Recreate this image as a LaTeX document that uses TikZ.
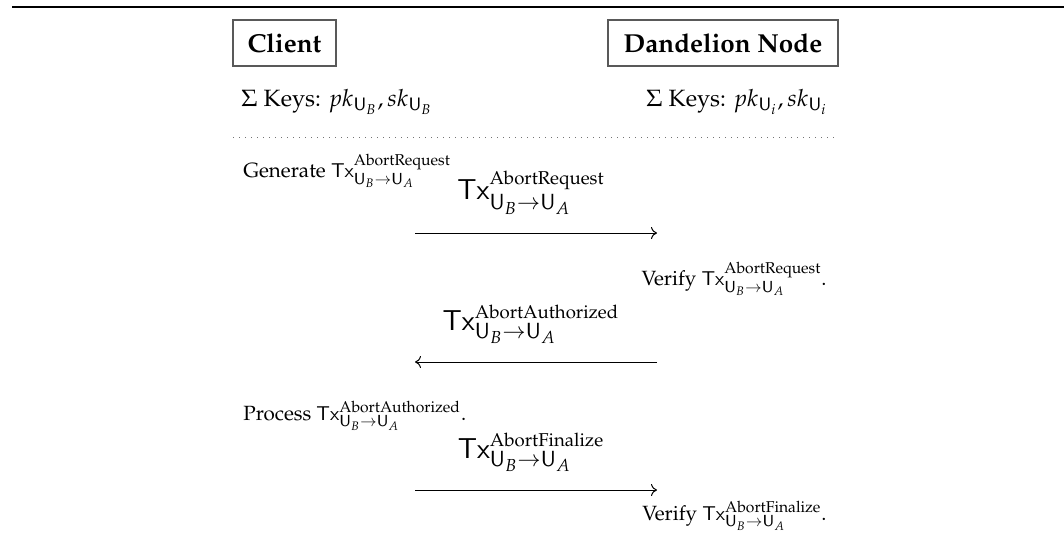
\documentclass[tikz,border=0pt]{standalone}
\usepackage[T1]{fontenc}
\usepackage{mathpazo}
\usepackage{amsmath}
\usetikzlibrary{arrows.meta}

% transaction symbol in running text
\newcommand{\txin}[1]{\ensuremath{\mathsf{Tx}^{\text{#1}}_{\mathsf{U}_B\rightarrow\mathsf{U}_A}}}
% transaction symbol as a message label
\newcommand{\txmsg}[1]{{\fontsize{14.5}{17}\selectfont
  $\mathsf{Tx}^{\mbox{\fontsize{9.3}{11}\selectfont #1}}_{\mathsf{U}_B\rightarrow\mathsf{U}_A}$}}

\tikzset{
  party/.style={draw=black!65, line width=0.6pt, inner sep=0pt,
    minimum height=23pt, font=\fontsize{13}{15}\selectfont\bfseries},
  step text/.style={inner sep=0pt, font=\fontsize{10.3}{12}\selectfont},
  key text/.style={inner sep=0pt, font=\fontsize{11.8}{14}\selectfont},
  msg/.style={line width=0.5pt, -{To[length=3pt,width=6pt]}},
  msglabel/.style={inner sep=0pt, above=9pt, midway, xshift=-2.5pt},
  rule/.style={line width=0.7pt},
  sep/.style={black!55, line width=0.5pt, dash pattern=on 0.5pt off 2.5pt}
}

\begin{document}
\begin{tikzpicture}[x=0.5pt, y=-0.5pt]
  \useasboundingbox (0,0) rectangle (1064,543);

  % top rule
  \coordinate (ruleL) at (12,7);
  \coordinate (ruleR) at (1064,7);
  \draw[rule] (ruleL) -- (ruleR);

  % parties
  \node[party, minimum width=51.5pt] (client) at (284.5,43) {Client};
  \node[party, minimum width=115pt] (dnode) at (723,43) {Dandelion Node};

  % keys
  \node[key text, anchor=base west] (ckeys) at (241,106)
    {$\Sigma$ Keys: $pk_{\mathsf{U}_B}, sk_{\mathsf{U}_B}$};
  \node[key text, anchor=base east] (nkeys) at (828,106)
    {$\Sigma$ Keys: $pk_{\mathsf{U}_i}, sk_{\mathsf{U}_i}$};

  % separator
  \coordinate (sepL) at (233,137);
  \coordinate (sepR) at (838,137);
  \draw[sep] (sepL) -- (sepR);

  % message endpoints
  \coordinate (c1) at (415,233);  \coordinate (n1) at (657,233);
  \coordinate (c2) at (415,362);  \coordinate (n2) at (657,362);
  \coordinate (c3) at (415,490);  \coordinate (n3) at (657,490);

  % protocol steps
  \node[step text, anchor=base west] (gen) at (243,177)
    {Generate \txin{AbortRequest}};
  \draw[msg] (c1) -- node[msglabel] (m1) {\txmsg{AbortRequest}} (n1);

  \node[step text, anchor=base east] (ver1) at (827,285)
    {Verify \txin{AbortRequest}.};
  \draw[msg] (n2) -- node[msglabel] (m2) {\txmsg{AbortAuthorized}} (c2);

  \node[step text, anchor=base west] (proc) at (243,420)
    {Process \txin{AbortAuthorized}.};
  \draw[msg] (c3) -- node[msglabel] (m3) {\txmsg{AbortFinalize}} (n3);

  \node[step text, anchor=base east] (ver2) at (827,520)
    {Verify \txin{AbortFinalize}.};
\end{tikzpicture}
\end{document}
